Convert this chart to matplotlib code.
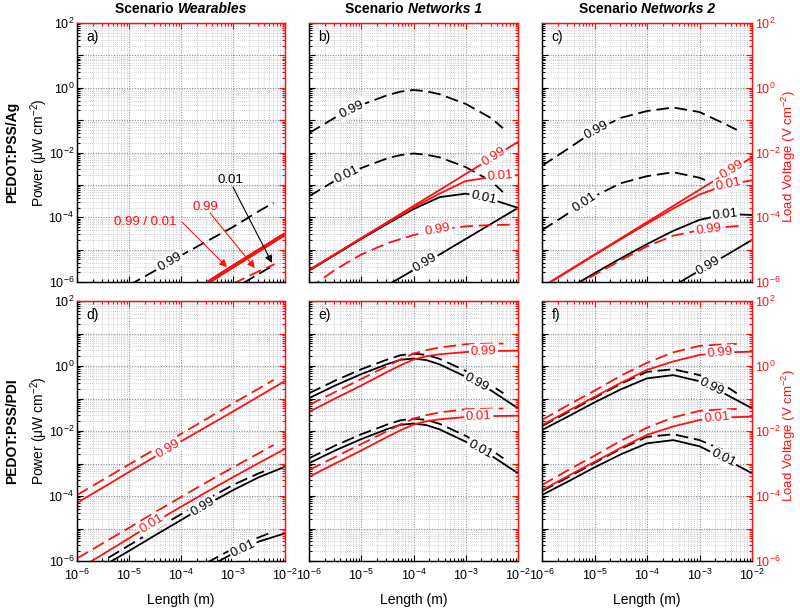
import numpy as np
import matplotlib
matplotlib.use("Agg")
import matplotlib.pyplot as plt
from matplotlib.ticker import LogLocator, FuncFormatter, NullFormatter

plt.rcParams.update({
    'font.family': ['Liberation Sans', 'DejaVu Sans'],
    'mathtext.fontset': 'custom',
    'mathtext.rm': 'Liberation Sans',
    'mathtext.it': 'Liberation Sans:italic',
    'mathtext.bf': 'Liberation Sans:bold',
    'mathtext.default': 'regular',
})

# ---------------- data (log10 of Length [m], log10 of Power / Voltage) ----------------
LX = [-6.0, -5.5, -5.0, -4.5, -4.0, -3.5, -3.0, -2.5, -2.0]

# panel a (PEDOT:PSS/Ag, Wearables)
A_K_D99_X = [-5.0, -4.5, -4.0, -3.5, -3.0, -2.5, -2.22]
A_K_D99_Y = [-6.1, -5.65, -5.18, -4.74, -4.3, -3.81, -3.55]
A_R_S_X = [-3.5, -3.0, -2.5, -2.0]
A_R_S99_Y = [-6.03, -5.52, -5.02, -4.52]
A_R_S01_Y = [-6.03, -5.52, -5.02, -4.52]
A_R_D99_X = [-3.0, -2.6, -2.2]
A_R_D99_Y = [-6.05, -5.74, -5.45]
A_K_D01_X = [-2.8, -2.26]
A_K_D01_Y = [-6.03, -5.52]

# panel b (PEDOT:PSS/Ag, Networks 1)
B_DASH_X = [-6.0, -5.5, -5.0, -4.5, -4.25, -4.0, -3.75, -3.5, -3.0, -2.5, -2.29]
B_K_D99_Y = [-1.40, -0.92, -0.53, -0.23, -0.12, -0.07, -0.11, -0.20, -0.50, -0.95, -1.25]
B_K_D01_Y = [-3.35, -2.87, -2.48, -2.18, -2.08, -2.03, -2.07, -2.15, -2.45, -2.90, -3.22]
B_R_S99_Y = [-5.63, -5.14, -4.64, -4.15, -3.65, -3.16, -2.66, -2.17, -1.67]
B_R_S01_Y = [-5.63, -5.14, -4.65, -4.17, -3.70, -3.27, -2.88, -2.76, -2.70]
B_K_S01_Y = [-5.65, -5.16, -4.67, -4.20, -3.75, -3.38, -3.27, -3.45, -3.71]
B_R_D99_X = [-6.0, -5.5, -5.0, -4.5, -4.0, -3.5, -3.0, -2.5, -2.1]
B_R_D99_Y = [-6.2, -5.62, -5.15, -4.8, -4.55, -4.38, -4.28, -4.24, -4.23]
B_K_S99_X = [-4.5, -4.0, -3.5, -3.0, -2.5, -2.0]
B_K_S99_Y = [-6.1, -5.63, -5.15, -4.67, -4.19, -3.71]

# panel c (PEDOT:PSS/Ag, Networks 2)
C_K_D99_X = [-6.0, -5.5, -5.0, -4.5, -4.0, -3.5, -3.0, -2.5, -2.29]
C_K_D99_Y = [-2.41, -1.88, -1.33, -0.93, -0.72, -0.61, -0.75, -1.13, -1.30]
C_K_D01_X = [-6.0, -5.5, -5.0, -4.5, -4.0, -3.5, -3.0, -2.85]
C_K_D01_Y = [-4.40, -3.88, -3.35, -2.95, -2.73, -2.61, -2.78, -2.88]
C_R_S99_Y = [-6.15, -5.65, -5.15, -4.65, -4.15, -3.65, -3.15, -2.65, -2.15]
C_R_S01_Y = [-6.17, -5.67, -5.17, -4.68, -4.20, -3.73, -3.30, -3.00, -2.86]
C_K_S01_Y = [-6.7, -6.2, -5.73, -5.27, -4.83, -4.42, -4.08, -3.90, -3.93]
C_R_D99_X = [-6.0, -5.5, -5.0, -4.5, -4.0, -3.5, -3.0, -2.5, -2.2]
C_R_D99_Y = [-6.75, -6.25, -5.78, -5.33, -4.9, -4.57, -4.4, -4.3, -4.26]
C_K_S99_X = [-3.5, -3.0, -2.5, -2.0]
C_K_S99_Y = [-6.12, -5.65, -5.18, -4.70]

# panel d (PEDOT:PSS/PDI, Wearables)
D_DASH_X = [-6.0, -5.5, -5.0, -4.5, -4.0, -3.5, -3.0, -2.5, -2.22]
D_R_S99_Y = [-4.21, -3.74, -3.26, -2.79, -2.32, -1.86, -1.40, -0.93, -0.46]
D_R_D99_Y = [-3.97, -3.50, -3.03, -2.56, -2.09, -1.62, -1.15, -0.69, -0.43]
D_R_S01_Y = [-6.28, -5.79, -5.30, -4.80, -4.33, -3.87, -3.42, -2.98, -2.55]
D_R_D01_Y = [-5.92, -5.45, -4.98, -4.50, -4.03, -3.57, -3.12, -2.68, -2.43]
D_K_S99_Y = [-6.65, -6.16, -5.69, -5.21, -4.74, -4.26, -3.82, -3.42, -3.10]
D_K_D99_X = [-6.0, -5.5, -5.0, -4.5, -4.0, -3.5, -3.0, -2.5, -2.29]
D_K_D99_Y = [-6.5, -6.0, -5.52, -5.04, -4.56, -4.10, -3.66, -3.30, -3.17]
D_K_S01_X = [-3.5, -3.0, -2.5, -2.0]
D_K_S01_Y = [-6.2, -5.77, -5.4, -5.15]
D_K_D01_X = [-3.5, -3.0, -2.5, -2.23]
D_K_D01_Y = [-6.05, -5.62, -5.27, -5.1]

# panel e (PEDOT:PSS/PDI, Networks 1)
E_X = [-6.0, -5.5, -5.0, -4.5, -4.25, -4.0, -3.75, -3.5, -3.0, -2.5, -2.0]
E_DASH_X = [-6.0, -5.5, -5.0, -4.5, -4.25, -4.0, -3.75, -3.5, -3.0, -2.5, -2.28]
E_K_S99_Y = [-0.99, -0.60, -0.25, 0.06, 0.19, 0.23, 0.18, 0.05, -0.33, -0.77, -1.30]
E_K_D99_Y = [-0.84, -0.45, -0.10, 0.20, 0.33, 0.38, 0.34, 0.22, -0.15, -0.60, -0.84]
E_R_S99_Y = [-1.41, -1.00, -0.60, -0.18, 0.02, 0.20, 0.30, 0.36, 0.43, 0.46, 0.47]
E_R_D99_Y = [-1.20, -0.80, -0.40, 0.00, 0.20, 0.38, 0.49, 0.57, 0.67, 0.69, 0.69]
E_K_S01_Y = [-2.99, -2.60, -2.25, -1.94, -1.81, -1.77, -1.82, -1.95, -2.33, -2.77, -3.30]
E_K_D01_Y = [-2.84, -2.45, -2.10, -1.80, -1.67, -1.62, -1.66, -1.78, -2.15, -2.60, -2.84]
E_R_S01_Y = [-3.41, -3.00, -2.60, -2.18, -1.98, -1.80, -1.70, -1.64, -1.57, -1.54, -1.53]
E_R_D01_Y = [-3.20, -2.80, -2.40, -2.00, -1.80, -1.62, -1.51, -1.43, -1.33, -1.31, -1.31]

# panel f (PEDOT:PSS/PDI, Networks 2)
F_DASH_X = [-6.0, -5.5, -5.0, -4.5, -4.0, -3.5, -3.0, -2.5, -2.29]
F_K_S99_Y = [-1.97, -1.55, -1.12, -0.72, -0.38, -0.28, -0.47, -0.87, -1.30]
F_K_D99_Y = [-1.85, -1.42, -0.98, -0.55, -0.18, -0.10, -0.28, -0.62, -0.84]
F_R_S99_Y = [-1.82, -1.38, -0.95, -0.52, -0.12, 0.14, 0.34, 0.42, 0.44]
F_R_D99_Y = [-1.66, -1.20, -0.76, -0.30, 0.10, 0.42, 0.62, 0.67, 0.68]
F_K_S01_Y = [-3.97, -3.55, -3.12, -2.72, -2.38, -2.28, -2.47, -2.87, -3.30]
F_K_D01_Y = [-3.85, -3.42, -2.98, -2.55, -2.18, -2.10, -2.28, -2.62, -2.84]
F_R_S01_Y = [-3.82, -3.38, -2.95, -2.52, -2.12, -1.86, -1.66, -1.58, -1.56]
F_R_D01_Y = [-3.66, -3.20, -2.76, -2.30, -1.90, -1.58, -1.38, -1.33, -1.32]

TITLES = ["Wearables", "Networks 1", "Networks 2"]
ROW_LABELS = ["PEDOT:PSS/Ag", "PEDOT:PSS/PDI"]
LETTERS = ["a)", "b)", "c)", "d)", "e)", "f)"]

# ---------------- layout ----------------
RED = '#ff1010'
W, H = 800, 610
COL_L = [77, 309, 542]
COL_R = [285, 518, 752]
ROW_T = [23, 301]
ROW_B = [282, 561]
TICK_FS = 9

fig = plt.figure(figsize=(W / 100, H / 100), dpi=100)

def ytick_fmt(v, pos):
    e = int(round(np.log10(v)))
    return r'$\mathdefault{10^{%d}}$' % e if e % 2 == 0 else ''

def xtick_fmt(v, pos):
    e = int(round(np.log10(v)))
    return r'$\mathdefault{10^{%d}}$' % e

axes = []
for r in range(2):
    for c in range(3):
        l, rr, t, b = COL_L[c], COL_R[c], ROW_T[r], ROW_B[r]
        ax = fig.add_axes([l / W, 1 - b / H, (rr - l) / W, (b - t) / H])
        ax.set_xscale('log'); ax.set_yscale('log')
        ax.set_xlim(1e-6, 1e-2); ax.set_ylim(1e-6, 1e2)
        for a in (ax.xaxis, ax.yaxis):
            a.set_major_locator(LogLocator(base=10, numticks=20))
            a.set_minor_locator(LogLocator(base=10, subs=np.arange(2, 10), numticks=100))
        ax.yaxis.set_major_formatter(FuncFormatter(ytick_fmt))
        ax.xaxis.set_major_formatter(FuncFormatter(xtick_fmt))
        ax.yaxis.set_minor_formatter(NullFormatter())
        ax.xaxis.set_minor_formatter(NullFormatter())
        ax.grid(True, which='minor', ls=(0, (1, 1.5)), color='#c4c4c4', lw=0.6)
        ax.grid(True, which='major', ls=(0, (1, 1.5)), color='#7d8d9c', lw=0.75)
        ax.set_axisbelow(True)
        ax.tick_params(axis='both', which='both', direction='in', top=False, right=False,
                       colors='black', labelsize=TICK_FS, width=0.8)
        ax.tick_params(which='major', length=4)
        ax.tick_params(which='minor', length=2)
        ax.tick_params(axis='x', pad=5, labelbottom=(r == 1))
        ax.tick_params(axis='y', pad=2, labelleft=(c == 0))
        for s in ('top', 'right'):
            ax.spines[s].set_color(RED)
        ax2 = ax.twinx()
        ax2.set_yscale('log'); ax2.set_ylim(1e-6, 1e2)
        ax2.yaxis.set_major_locator(LogLocator(base=10, numticks=20))
        ax2.yaxis.set_minor_locator(LogLocator(base=10, subs=np.arange(2, 10), numticks=100))
        ax2.yaxis.set_major_formatter(FuncFormatter(ytick_fmt))
        ax2.yaxis.set_minor_formatter(NullFormatter())
        ax2.tick_params(axis='y', which='both', direction='in', colors=RED, labelsize=TICK_FS,
                        labelright=(c == 2), width=0.8, pad=2)
        ax2.tick_params(axis='y', which='major', length=4)
        ax2.tick_params(axis='y', which='minor', length=2)
        ax2.xaxis.set_visible(True)
        ax2.tick_params(axis='x', which='both', direction='in', top=True, bottom=False,
                        labeltop=False, labelbottom=False, color=RED, width=0.8)
        ax2.tick_params(axis='x', which='major', length=4)
        ax2.tick_params(axis='x', which='minor', length=2)
        for s, col in (('left', 'black'), ('bottom', 'black'), ('top', RED), ('right', RED)):
            ax2.spines[s].set_color(col)
            ax2.spines[s].set_linewidth(0.9)
            ax.spines[s].set_linewidth(0.9)
        ax.text(0.045, 0.945, LETTERS[r * 3 + c], transform=ax.transAxes, fontsize=10,
                ha='left', va='center')
        axes.append(ax)

# ---------------- curves ----------------
# (panel, x, y, colour, dashed, linewidth, label_x, label)
CURVES = [
    (0, A_K_D99_X, A_K_D99_Y, 'k', True, 1.3, -4.21, '0.99'),
    (0, A_R_S_X, A_R_S99_Y, RED, False, 2.6, None, None),
    (0, A_R_S_X, A_R_S01_Y, RED, False, 2.6, None, None),
    (0, A_R_D99_X, A_R_D99_Y, RED, True, 1.3, None, None),
    (0, A_K_D01_X, A_K_D01_Y, 'k', True, 1.3, None, None),

    (1, B_DASH_X, B_K_D99_Y, 'k', True, 1.3, -5.18, '0.99'),
    (1, B_DASH_X, B_K_D01_Y, 'k', True, 1.3, -5.28, '0.01'),
    (1, LX, B_K_S01_Y, 'k', False, 1.3, -2.66, '0.01'),
    (1, B_K_S99_X, B_K_S99_Y, 'k', False, 1.3, -3.78, '0.99'),
    (1, LX, B_R_S99_Y, RED, False, 1.3, -2.47, '0.99'),
    (1, LX, B_R_S01_Y, RED, False, 1.3, -2.34, '0.01'),
    (1, B_R_D99_X, B_R_D99_Y, RED, True, 1.3, -3.53, '0.99'),

    (2, C_K_D99_X, C_K_D99_Y, 'k', True, 1.3, -4.96, '0.99'),
    (2, C_K_D01_X, C_K_D01_Y, 'k', True, 1.3, -5.18, '0.01'),
    (2, LX, C_K_S01_Y, 'k', False, 1.3, -2.51, '0.01'),
    (2, C_K_S99_X, C_K_S99_Y, 'k', False, 1.3, -2.83, '0.99'),
    (2, LX, C_R_S99_Y, RED, False, 1.3, -2.39, '0.99'),
    (2, LX, C_R_S01_Y, RED, False, 1.3, -2.45, '0.01'),
    (2, C_R_D99_X, C_R_D99_Y, RED, True, 1.3, -2.83, '0.99'),

    (3, LX, D_K_S99_Y, 'k', False, 1.3, -3.58, '0.99'),
    (3, D_K_D99_X, D_K_D99_Y, 'k', True, 1.3, None, None),
    (3, D_K_S01_X, D_K_S01_Y, 'k', False, 1.3, -2.8, '0.01'),
    (3, D_K_D01_X, D_K_D01_Y, 'k', True, 1.3, None, None),
    (3, LX, D_R_S99_Y, RED, False, 1.3, -4.25, '0.99'),
    (3, D_DASH_X, D_R_D99_Y, RED, True, 1.3, None, None),
    (3, LX, D_R_S01_Y, RED, False, 1.3, -4.56, '0.01'),
    (3, D_DASH_X, D_R_D01_Y, RED, True, 1.3, None, None),

    (4, E_X, E_K_S99_Y, 'k', False, 1.3, -2.79, '0.99'),
    (4, E_DASH_X, E_K_D99_Y, 'k', True, 1.3, None, None),
    (4, E_X, E_K_S01_Y, 'k', False, 1.3, -2.73, '0.01'),
    (4, E_DASH_X, E_K_D01_Y, 'k', True, 1.3, None, None),
    (4, E_X, E_R_S99_Y, RED, False, 1.3, -2.66, '0.99'),
    (4, E_DASH_X, E_R_D99_Y, RED, True, 1.3, None, None),
    (4, E_X, E_R_S01_Y, RED, False, 1.3, -2.75, '0.01'),
    (4, E_DASH_X, E_R_D01_Y, RED, True, 1.3, None, None),

    (5, LX, F_K_S99_Y, 'k', False, 1.3, -2.77, '0.99'),
    (5, F_DASH_X, F_K_D99_Y, 'k', True, 1.3, None, None),
    (5, LX, F_K_S01_Y, 'k', False, 1.3, -2.55, '0.01'),
    (5, F_DASH_X, F_K_D01_Y, 'k', True, 1.3, None, None),
    (5, LX, F_R_S99_Y, RED, False, 1.3, -2.61, '0.99'),
    (5, F_DASH_X, F_R_D99_Y, RED, True, 1.3, None, None),
    (5, LX, F_R_S01_Y, RED, False, 1.3, -2.67, '0.01'),
    (5, F_DASH_X, F_R_D01_Y, RED, True, 1.3, None, None),
]

labels_to_draw = []
for p, xs, ys, col, dashed, lw, lx, txt in CURVES:
    ax = axes[p]
    xv = np.power(10.0, np.asarray(xs, float))
    yv = np.power(10.0, np.asarray(ys, float))
    ln, = ax.plot(xv, yv, color=col, lw=lw, solid_capstyle='butt',
                  solid_joinstyle='round', zorder=3 if col == 'k' else 4)
    if dashed:
        ln.set_dashes((7, 3.2))
    if txt is not None:
        labels_to_draw.append((ax, xs, ys, lx, txt, col))

for ax, xs, ys, lx, txt, col in labels_to_draw:
    ly = np.interp(lx, xs, ys)
    d = 0.08
    p1 = ax.transData.transform((10 ** (lx - d), 10 ** np.interp(lx - d, xs, ys)))
    p2 = ax.transData.transform((10 ** (lx + d), 10 ** np.interp(lx + d, xs, ys)))
    ang = np.degrees(np.arctan2(p2[1] - p1[1], p2[0] - p1[0]))
    ax.text(10 ** lx, 10 ** ly, txt, color=col, fontsize=9.5, rotation=ang,
            rotation_mode='anchor', ha='center', va='center', zorder=6,
            bbox=dict(boxstyle='square,pad=0.12', fc='white', ec='none'))

# ---------------- panel a annotations ----------------
axa = axes[0]
ANNOT = [
    ('0.99 / 0.01', RED, (-4.69, -4.15), (-3.98, -4.15), (-3.115, -5.54)),
    ('0.99', RED, (-3.54, -3.68), (-3.44, -3.87), (-2.58, -5.57)),
    ('0.01', 'k', (-3.04, -2.85), (-3.0, -3.07), (-2.25, -5.41)),
]
for txt, col, tpos, tail, tip in ANNOT:
    axa.text(10 ** tpos[0], 10 ** tpos[1], txt, color=col, fontsize=9.5,
             ha='center', va='center', zorder=7)
    axa.annotate('', xy=(10 ** tip[0], 10 ** tip[1]), xytext=(10 ** tail[0], 10 ** tail[1]),
                 arrowprops=dict(arrowstyle='-|>', color=col, lw=0.8, mutation_scale=11,
                                 shrinkA=0, shrinkB=0), zorder=7)

# ---------------- figure texts ----------------
renderer = fig.canvas.get_renderer()
for c in range(3):
    cx = (COL_L[c] + COL_R[c]) / 2
    ty = 1 - 9 / H
    t1 = fig.text(0, ty, 'Scenario ', ha='left', va='center', fontsize=10, fontweight='bold')
    t2 = fig.text(0, ty, TITLES[c], ha='left', va='center', fontsize=10,
                  fontweight='bold', fontstyle='italic')
    w1 = t1.get_window_extent(renderer).width
    w2 = t2.get_window_extent(renderer).width
    x0 = cx - (w1 + w2) / 2
    t1.set_x(x0 / W)
    t2.set_x((x0 + w1) / W)
    fig.text(cx / W, 1 - 600 / H, 'Length (m)', ha='center', va='center', fontsize=10)

for r in range(2):
    cy = 1 - (ROW_T[r] + ROW_B[r]) / 2 / H
    fig.text(12 / W, cy, ROW_LABELS[r], rotation=90, ha='center', va='center',
             fontsize=10, fontweight='bold')
    fig.text(39 / W, cy, r'Power (μW cm$^{\mathregular{-2}}$)', rotation=90,
             ha='center', va='center', fontsize=10)
    fig.text(789 / W, cy - 4 / H, r'Load Voltage (V cm$^{\mathregular{-2}}$)', rotation=90,
             ha='center', va='center', fontsize=9.5, color=RED)

fig.savefig('out.png', dpi=100)
